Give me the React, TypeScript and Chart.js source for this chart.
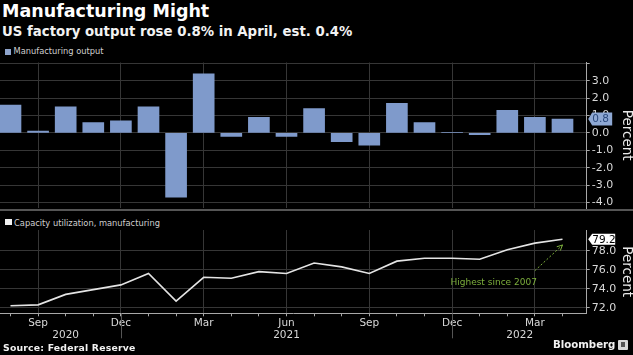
import React, { useEffect, useRef } from "react";
import { Chart, registerables } from "chart.js";
Chart.register(...registerables);

// ---- data ----
const monthNames = ["Aug", "Sep", "Oct", "Nov", "Dec", "Jan", "Feb", "Mar", "Apr", "May", "Jun", "Jul", "Aug", "Sep", "Oct", "Nov", "Dec", "Jan", "Feb", "Mar", "Apr"];
const monthYears = [2020, 2020, 2020, 2020, 2020, 2021, 2021, 2021, 2021, 2021, 2021, 2021, 2021, 2021, 2021, 2021, 2021, 2022, 2022, 2022, 2022];
const outputChange = [1.6, 0.1, 1.5, 0.6, 0.7, 1.5, -3.7, 3.4, -0.2, 0.9, -0.2, 1.4, -0.5, -0.7, 1.7, 0.6, 0.03, -0.1, 1.3, 0.9, 0.8];
const capacityUtil = [72.2, 72.3, 73.4, 73.9, 74.4, 75.6, 72.7, 75.2, 75.1, 75.8, 75.6, 76.7, 76.3, 75.6, 76.9, 77.2, 77.2, 77.1, 78.1, 78.8, 79.2];
const quarterMonths = ["Mar", "Jun", "Sep", "Dec"];
const outputTicks = [-4, -3, -2, -1, 0, 1, 2, 3, 4];
const capacityTicks = [72, 74, 76, 78];
const yearLabels = ["2020", "2021", "2022"];
const yearLabelAt = [2, 10, 18.45];
const annotationText = "Highest since 2007";

const FONT = "'DejaVu Sans', sans-serif";
const X_MIN = -0.38;
const X_MAX = 20.877;
const GRID = "#363636";
const AXIS = "#a8a8a8";
const TICK_TXT = "#d8d8d8";
const BAR = "#7f9acb";

const quarterIdx = monthNames.map((m, i) => (quarterMonths.includes(m) ? i : -1)).filter((i) => i >= 0);
const decIdx = monthNames.map((m, i) => (m === "Dec" ? i : -1)).filter((i) => i >= 0);

function drawTag(ctx: CanvasRenderingContext2D, x: number, y: number, w: number, h: number, bg: string, fg: string, text: string, font: string) {
  ctx.save();
  ctx.beginPath();
  ctx.moveTo(x, y);
  ctx.lineTo(x + 4, y - h / 2);
  ctx.lineTo(x + w, y - h / 2);
  ctx.lineTo(x + w, y + h / 2);
  ctx.lineTo(x + 4, y + h / 2);
  ctx.closePath();
  ctx.fillStyle = bg;
  ctx.fill();
  ctx.fillStyle = fg;
  ctx.font = font;
  ctx.textAlign = "left";
  ctx.textBaseline = "middle";
  ctx.fillText(text, x + 4, y + 0.5);
  ctx.restore();
}

const topExtras = {
  id: "topExtras",
  afterDraw(chart: any) {
    const last = outputChange[outputChange.length - 1];
    const y = chart.scales.y.getPixelForValue(last);
    drawTag(chart.ctx, chart.chartArea.right + 1.5, y, 24, 13, "#8ea8d4", "#2b4a7e", last.toFixed(1), `10.5px ${FONT}`);
  },
};

const bottomExtras = {
  id: "bottomExtras",
  afterDraw(chart: any) {
    const ctx: CanvasRenderingContext2D = chart.ctx;
    const xs = chart.scales.x;
    const ys = chart.scales.y;
    const area = chart.chartArea;
    ctx.save();
    // year separators
    ctx.strokeStyle = "#555";
    ctx.lineWidth = 1;
    decIdx.forEach((i) => {
      const x = Math.round(xs.getPixelForValue(i)) + 0.5;
      ctx.beginPath();
      ctx.moveTo(x, area.bottom);
      ctx.lineTo(x, area.bottom + 25);
      ctx.stroke();
    });
    // year labels
    ctx.fillStyle = TICK_TXT;
    ctx.font = `10.5px ${FONT}`;
    ctx.textAlign = "center";
    ctx.textBaseline = "alphabetic";
    yearLabels.forEach((t, k) => {
      ctx.fillText(t, xs.getPixelForValue(yearLabelAt[k]), area.bottom + 25);
    });
    // annotation arrow
    const n = capacityUtil.length - 1;
    const x0 = xs.getPixelForValue(n - 1);
    const y0 = ys.getPixelForValue(75.9);
    const x1 = xs.getPixelForValue(n);
    const y1 = ys.getPixelForValue(78.6);
    const green = "#7cae3c";
    ctx.strokeStyle = green;
    ctx.lineWidth = 1;
    ctx.setLineDash([2, 2]);
    ctx.beginPath();
    ctx.moveTo(x0, y0);
    ctx.lineTo(x1, y1);
    ctx.stroke();
    ctx.setLineDash([]);
    const ang = Math.atan2(y1 - y0, x1 - x0);
    ctx.beginPath();
    ctx.moveTo(x1 - 6 * Math.cos(ang - 0.45), y1 - 6 * Math.sin(ang - 0.45));
    ctx.lineTo(x1, y1);
    ctx.lineTo(x1 - 6 * Math.cos(ang + 0.45), y1 - 6 * Math.sin(ang + 0.45));
    ctx.stroke();
    ctx.fillStyle = green;
    ctx.font = `9px ${FONT}`;
    ctx.textAlign = "right";
    ctx.textBaseline = "alphabetic";
    ctx.fillText(annotationText, x0 + 2, ys.getPixelForValue(74.35));
    ctx.restore();
    // last value tag
    const last = capacityUtil[n];
    drawTag(ctx, area.right + 1.5, ys.getPixelForValue(last), 27, 11, "#ffffff", "#000000", last.toFixed(1), `10.5px ${FONT}`);
  },
};

function TopChart() {
  const ref = useRef<HTMLCanvasElement>(null);
  useEffect(() => {
    const chart = new Chart(ref.current!, {
      type: "bar",
      data: {
        datasets: [
          {
            data: outputChange.map((v, i) => ({ x: i, y: v })),
            backgroundColor: BAR,
            barThickness: 21,
            borderWidth: 0,
          },
        ],
      },
      options: {
        animation: false,
        responsive: false,
        events: [],
        layout: { padding: { top: 62.5, bottom: 355 - 208, left: 0, right: 0 } },
        plugins: { legend: { display: false }, tooltip: { enabled: false } },
        scales: {
          x: {
            type: "linear",
            min: X_MIN,
            max: X_MAX,
            offset: false,
            afterBuildTicks: (s: any) => {
              s.ticks = quarterIdx.map((v) => ({ value: v }));
            },
            afterFit: (s: any) => {
              s.height = 0;
            },
            ticks: { display: false },
            grid: { color: GRID, drawTicks: false, offset: false },
            border: { display: false },
          },
          y: {
            position: "right",
            min: -4.32,
            max: 4.05,
            afterBuildTicks: (s: any) => {
              s.ticks = outputTicks.map((v) => ({ value: v }));
            },
            afterFit: (s: any) => {
              s.width = 633 - 586.7;
            },
            ticks: {
              color: TICK_TXT,
              font: { family: FONT, size: 11 },
              padding: 2,
              callback: (v: any) => (v >= 4 ? "" : Number(v).toFixed(1)),
            },
            grid: { color: GRID, tickLength: 3, tickColor: AXIS },
            border: { color: AXIS },
            title: {
              display: true,
              text: "Percent",
              color: "#e8e8e8",
              font: { family: FONT, size: 13.5, lineHeight: 1 },
              padding: { top: 0, bottom: 0 },
            },
          },
        },
      },
      plugins: [topExtras],
    } as any);
    return () => chart.destroy();
  }, []);
  return <canvas ref={ref} width={633} height={355} style={{ position: "absolute", left: 0, top: 0 }} />;
}

function BottomChart() {
  const ref = useRef<HTMLCanvasElement>(null);
  useEffect(() => {
    const chart = new Chart(ref.current!, {
      type: "line",
      data: {
        datasets: [
          {
            data: capacityUtil.map((v, i) => ({ x: i, y: v })),
            borderColor: "#e4e4e4",
            borderWidth: 1.6,
            pointRadius: 0,
            tension: 0,
          },
        ],
      },
      options: {
        animation: false,
        responsive: false,
        events: [],
        layout: { padding: { top: 230, bottom: 0, left: 0, right: 0 } },
        plugins: { legend: { display: false }, tooltip: { enabled: false } },
        scales: {
          x: {
            type: "linear",
            min: X_MIN,
            max: X_MAX,
            offset: false,
            afterBuildTicks: (s: any) => {
              s.ticks = monthNames.map((_, i) => ({ value: i }));
            },
            afterFit: (s: any) => {
              s.height = 355 - 313.3;
            },
            ticks: {
              autoSkip: false,
              maxRotation: 0,
              color: TICK_TXT,
              font: { family: FONT, size: 10.5 },
              padding: 1,
              callback: (v: any) => {
                const m = monthNames[Math.round(v)];
                return quarterMonths.includes(m) ? m : "";
              },
            },
            grid: {
              color: (c: any) => (c.tick && quarterIdx.includes(Math.round(c.tick.value)) ? GRID : "rgba(0,0,0,0)"),
              tickColor: AXIS,
              tickLength: 3,
              offset: false,
            },
            border: { color: AXIS },
          },
          y: {
            position: "right",
            min: 71.41,
            max: 80.18,
            afterBuildTicks: (s: any) => {
              s.ticks = capacityTicks.map((v) => ({ value: v }));
            },
            afterFit: (s: any) => {
              s.width = 633 - 586.7;
            },
            ticks: {
              color: TICK_TXT,
              font: { family: FONT, size: 11 },
              padding: 2,
              callback: (v: any) => Number(v).toFixed(1),
            },
            grid: { color: GRID, tickLength: 3, tickColor: AXIS },
            border: { color: AXIS },
            title: {
              display: true,
              text: "Percent",
              color: "#e8e8e8",
              font: { family: FONT, size: 13.5, lineHeight: 1 },
              padding: { top: 0, bottom: 0 },
            },
          },
        },
      },
      plugins: [bottomExtras],
    } as any);
    return () => chart.destroy();
  }, []);
  return <canvas ref={ref} width={633} height={355} style={{ position: "absolute", left: 0, top: 0 }} />;
}

function Text(props: { left: number; baseline: number; size: number; bold?: boolean; color: string; children: any; spacing?: number }) {
  const { left, baseline, size, bold, color, children, spacing } = props;
  return (
    <div
      style={{
        position: "absolute",
        left,
        top: baseline - 0.846 * size,
        fontFamily: FONT,
        fontSize: size,
        lineHeight: `${size}px`,
        fontWeight: bold ? "bold" : "normal",
        color,
        whiteSpace: "nowrap",
        letterSpacing: spacing ?? 0,
      }}
    >
      {children}
    </div>
  );
}

export default function App() {
  return (
    <div style={{ position: "fixed", left: 0, top: 0, width: 633, height: 355, background: "#000", overflow: "hidden" }}>
      <Text left={2} baseline={18.3} size={17.5} bold color="#ffffff">Manufacturing Might</Text>
      <Text left={2} baseline={36} size={13.3} bold color="#f2f2f2">US factory output rose 0.8% in April, est. 0.4%</Text>
      <div style={{ position: "absolute", left: 5, top: 49, width: 6, height: 6, background: "#8ea4cc" }} />
      <Text left={13.5} baseline={54.3} size={8.3} color="#cfcfcf">Manufacturing output</Text>
      <div style={{ position: "absolute", left: 0, top: 209, width: 633, height: 2, background: "#555" }} />
      <div style={{ position: "absolute", left: 5, top: 218.5, width: 6.5, height: 6.5, background: "#f2f2f2" }} />
      <Text left={14} baseline={225.7} size={8.3} color="#cfcfcf">Capacity utilization, manufacturing</Text>
      <TopChart />
      <BottomChart />
      <Text left={3} baseline={351} size={9.3} bold color="#f2f2f2" spacing={0.2}>Source: Federal Reserve</Text>
      <Text left={553} baseline={349} size={10.2} bold color="#f2f2f2">Bloomberg</Text>
      <div style={{ position: "absolute", left: 618, top: 340, width: 10, height: 10, background: "#d8d8d8", borderRadius: 1 }}>
        <div style={{ position: "absolute", left: 3, top: 2, width: 4, height: 5, background: "#555" }} />
      </div>
    </div>
  );
}
